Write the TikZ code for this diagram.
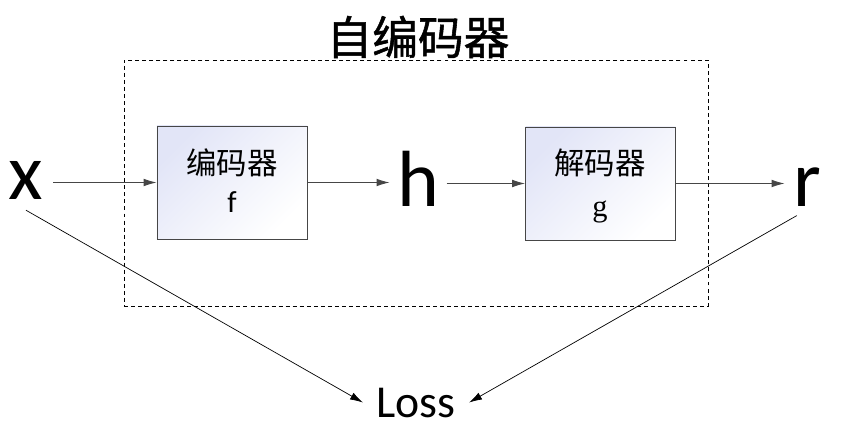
\documentclass[tikz,border=0pt]{standalone}
\usepackage{fontspec}
\setmainfont{Carlito}
\newfontfamily\cjk{Noto Sans CJK SC}
\newfontfamily\cjktitle[FakeBold=1.2]{Noto Sans CJK SC}
\newfontfamily\gfont{Liberation Serif}
\usetikzlibrary{arrows.meta}
\definecolor{boxblue}{RGB}{226,229,247}
\definecolor{linegray}{RGB}{70,70,70}
\tikzset{
	node_var/.style = {
		inner sep=0.25cm,
		anchor=base,
		font=\fontsize{68}{80}\selectfont
	},
	node_coder/.style = {
		rectangle,
		draw=linegray,
		line width=0.7pt,
		top color=boxblue,
		bottom color=white,
		shading angle=45,
		minimum width=4.5cm,
		minimum height=3.39cm
	},
	node_ae/.style = {
		rectangle,
		draw=black,
		line width=0.6pt,
		dash pattern=on 3.4pt off 2.6pt,
		minimum width=17.52cm,
		minimum height=7.38cm
	},
	node_title/.style = {
		inner sep=0pt,
		font=\cjktitle\fontsize{39}{45}\selectfont
	},
	node_cjk/.style = {
		inner sep=0pt,
		font=\cjk\fontsize{26}{30}\selectfont
	},
	node_fn/.style = {
		inner sep=0pt,
		anchor=base,
		font=\fontsize{26}{30}\selectfont
	},
	node_loss/.style = {
		inner xsep=0.4cm,
		inner ysep=0.1cm,
		anchor=base,
		font=\fontsize{39}{45}\selectfont
	},
	arrow_h/.style = {
		draw=linegray,
		line width=0.8pt,
		-{Latex[length=11pt,width=6.5pt]}
	},
	arrow_d/.style = {
		draw=black,
		line width=0.6pt,
		-{Latex[length=11pt,width=6.5pt]}
	}
}
\begin{document}
\begin{tikzpicture}[x=0.03cm, y=-0.03cm]
\useasboundingbox (0,0) rectangle (842,427);
\node [node_ae] (ae) at (416,183) {};
\node [node_title] (title) at (418,37) {自编码器};
\node [node_coder] (enc) at (232,182.5) {};
\node [node_coder] (dec) at (600.5,183.5) {};
\node [node_cjk] (enc_name) at (232,163) {编码器};
\node [node_fn] (enc_fn) at (232,213) {f};
\node [node_cjk] (dec_name) at (600,163) {解码器};
\node [node_fn] (dec_fn) at (600,216) {\gfont g};
\node [node_var, inner sep=0.3cm] (x) at (26,200) {x};
\node [node_var, inner sep=0.22cm] (h) at (418,207) {h};
\node [node_var] (r) at (807,207) {r};
\node [node_loss] (loss) at (416,417) {Loss};
\draw [arrow_h] (x.east |- enc.west) -- (enc.west);
\draw [arrow_h] (enc.east) -- (h.west |- enc.east);
\draw [arrow_h] (h.east |- dec.west) -- (dec.west);
\draw [arrow_h] (dec.east) -- (r.west |- dec.east);
\draw [arrow_d] (x.south) -- (loss.west);
\draw [arrow_d] (r.250) -- (loss.east);
\end{tikzpicture}
\end{document}
